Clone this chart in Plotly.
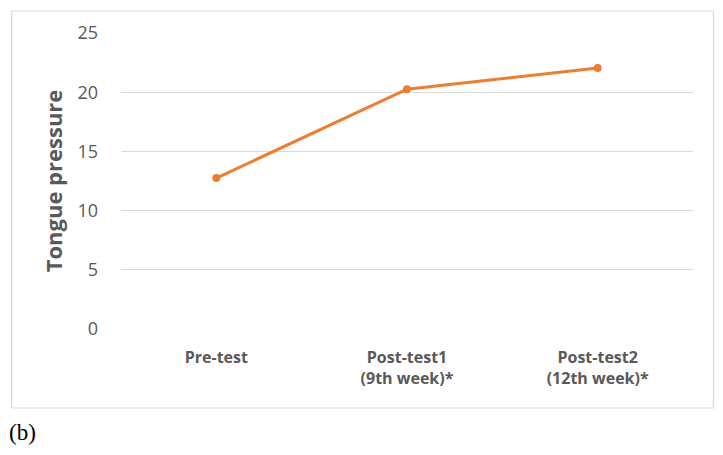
import plotly.graph_objects as go

categories = ["Pre-test", "Post-test1<br>(9th week)*", "Post-test2<br>(12th week)*"]
values = [12.75, 20.25, 22.05]
y_ticks = [0, 5, 10, 15, 20, 25]

# page body adds an 8px offset; work in reference pixel coords then shift
OFF = 8
W, H = 723 - OFF, 455 - OFF
L, R, T, B = 120.5 - OFF, 29.5, 33 - OFF, 126
pw, ph = W - L - R, H - T - B

def px(x):
    return (x - OFF - L) / pw

def py(y):
    return (H - B - (y - OFF)) / ph

fig = go.Figure()
fig.add_trace(go.Scatter(
    x=categories, y=values, mode="lines+markers",
    line=dict(color="#ED7D31", width=3),
    marker=dict(color="#ED7D31", size=8),
    showlegend=False,
))

fig.add_shape(type="rect", xref="paper", yref="paper",
              x0=px(11), x1=px(714), y0=py(408), y1=py(11),
              line=dict(color="#D9D9D9", width=1.2), layer="below")

fig.add_annotation(text="(b)", xref="paper", yref="paper",
                   x=px(6), y=py(432), xanchor="left", yanchor="middle",
                   showarrow=False,
                   font=dict(family="Liberation Serif", size=23, color="#000000"))

fig.update_layout(
    width=W, height=H,
    margin=dict(l=L, r=R, t=T, b=B),
    paper_bgcolor="white", plot_bgcolor="white",
    font=dict(family="Open Sans", color="#595959"),
    xaxis=dict(
        type="category", range=[-0.5, 2.5], showgrid=False, zeroline=False,
        showline=False, ticks="",
        tickfont=dict(family="Open Sans", size=16, color="#595959", weight="bold"),
        ticklabelstandoff=17,
    ),
    yaxis=dict(
        range=[0, 25], tickvals=y_ticks, showgrid=True, gridcolor="#D9D9D9",
        gridwidth=1, zeroline=False, showline=False, ticks="",
        tickfont=dict(family="Open Sans", size=18, color="#595959"),
        ticklabelstandoff=22,
        title=dict(text="Tongue pressure", standoff=8,
                   font=dict(family="Open Sans", size=22, color="#595959", weight="bold")),
    ),
)

fig.write_html("out.html")
